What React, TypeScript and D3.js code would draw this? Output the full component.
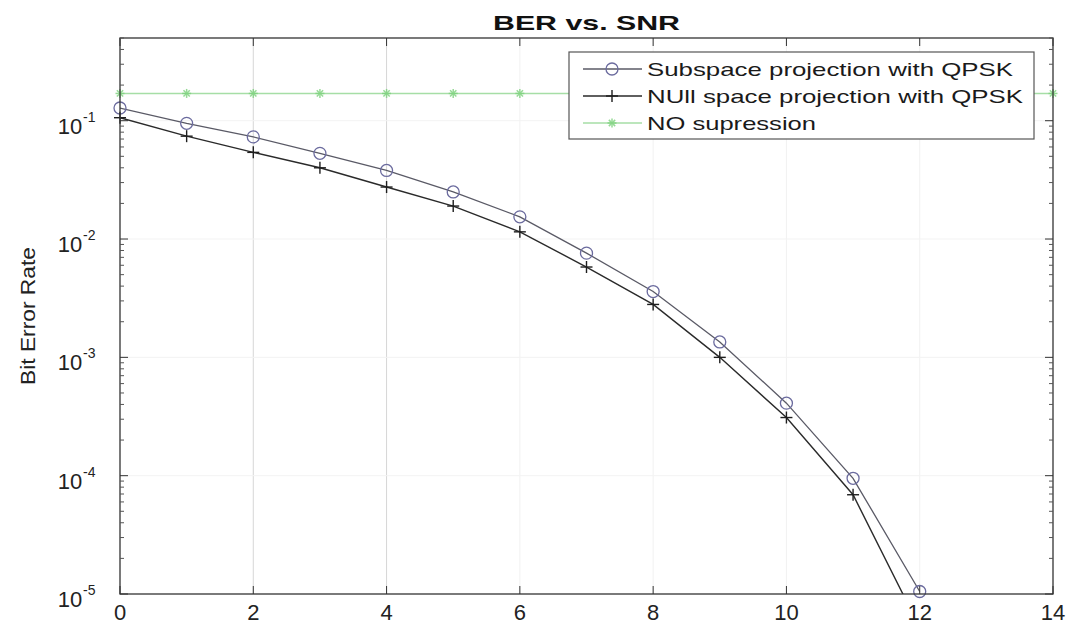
import { line, range, scaleLinear, scaleLog } from "d3";

// SNR (dB) on the x axis
const snrValues = [0, 1, 2, 3, 4, 5, 6, 7, 8, 9, 10, 11, 12, 13, 14];
const subspaceBer = [0.128, 0.095, 0.073, 0.053, 0.038, 0.025, 0.0154, 0.0076, 0.0036, 0.00135, 0.00041, 0.000095, 0.0000105];
const nullBer = [0.106, 0.074, 0.054, 0.04, 0.0275, 0.019, 0.0115, 0.0058, 0.0028, 0.001, 0.00031, 0.000069, 0.0000052];
const noSuppressionBer = [0.17, 0.17, 0.17, 0.17, 0.17, 0.17, 0.17, 0.17, 0.17, 0.17, 0.17, 0.17, 0.17, 0.17, 0.17];
const xTicks = [0, 2, 4, 6, 8, 10, 12, 14];
const yExponents = [-5, -4, -3, -2, -1];
const legendLabels = ["Subspace projection with QPSK", "NUll space projection with QPSK", "NO supression"];

const W = 1074;
const H = 628;
const m = { top: 38, right: 21, bottom: 34, left: 120 };
const font = "'Liberation Sans', Arial, sans-serif";

const App = () => {
  const x = scaleLinear().domain([0, 14]).range([m.left, W - m.right]);
  const y = scaleLog().domain([1e-5, 0.5]).range([H - m.bottom, m.top]);
  const x0 = m.left, x1 = W - m.right, y0 = m.top, y1 = H - m.bottom;

  const pts = (vals: number[]) => vals.map((v, i) => [snrValues[i], v] as [number, number]);
  const path = line<[number, number]>().x((d) => x(d[0])).y((d) => y(d[1]));
  const inside = (v: number) => v >= 1e-5 * 0.999;

  // minor ticks 2..9 in every decade
  const minor: number[] = [];
  yExponents.forEach((e) => {
    range(2, 10).forEach((k) => {
      const v = k * Math.pow(10, e);
      if (v <= 0.5) minor.push(v);
    });
  });

  const plus = (cx: number, cy: number, s: number, c: string, k: string) => (
    <g key={k} stroke={c} strokeWidth={1.4}>
      <line x1={cx - s} x2={cx + s} y1={cy} y2={cy} />
      <line x1={cx} x2={cx} y1={cy - s} y2={cy + s} />
    </g>
  );
  const star = (cx: number, cy: number, s: number, c: string, k: string) => (
    <g key={k} stroke={c} strokeWidth={1.5} opacity={0.8}>
      <line x1={cx - s} x2={cx + s} y1={cy} y2={cy} />
      <line x1={cx} x2={cx} y1={cy - s} y2={cy + s} />
      <line x1={cx - s * 0.7} x2={cx + s * 0.7} y1={cy - s * 0.7} y2={cy + s * 0.7} />
      <line x1={cx - s * 0.7} x2={cx + s * 0.7} y1={cy + s * 0.7} y2={cy - s * 0.7} />
    </g>
  );

  const lgX = 569, lgY = 52, lgW = 465, lgH = 87;
  const rowY = [69, 96, 123];

  return (
    <svg width={W} height={H} style={{ position: "absolute", left: 0, top: 0, background: "#fff" }} fontFamily={font}>
      <defs>
        <clipPath id="plot">
          <rect x={x0} y={y0} width={x1 - x0} height={y1 - y0} />
        </clipPath>
      </defs>
      <rect width={W} height={H} fill="#fff" />

      {/* grid */}
      {xTicks.slice(1, -1).map((t) => (
        <line key={"gx" + t} x1={x(t)} x2={x(t)} y1={y0} y2={y1} stroke={t === 2 || t === 4 ? "#d6d6d6" : "#f1f1f1"} />
      ))}
      {yExponents.slice(1).map((e) => (
        <line key={"gy" + e} x1={x0} x2={x1} y1={y(Math.pow(10, e))} y2={y(Math.pow(10, e))} stroke="#f3f3f3" />
      ))}

      {/* series lines */}
      <g clipPath="url(#plot)" fill="none">
        <path d={path(pts(noSuppressionBer)) ?? ""} stroke="#a6dea6" strokeWidth={1.6} />
        <path d={path(pts(subspaceBer)) ?? ""} stroke="#5a5a66" strokeWidth={1.3} />
        <path d={path(pts(nullBer)) ?? ""} stroke="#2a2a2a" strokeWidth={1.4} />
      </g>

      {/* markers */}
      {pts(noSuppressionBer).map((d, i) => star(x(d[0]), y(d[1]), 4.5, "#7cd27c", "gs" + i))}
      {pts(subspaceBer).filter((d) => inside(d[1])).map((d, i) => (
        <circle key={"c" + i} cx={x(d[0])} cy={y(d[1])} r={6} fill="none" stroke="#6b6b9e" strokeWidth={1.3} />
      ))}
      {pts(nullBer).filter((d) => inside(d[1])).map((d, i) => plus(x(d[0]), y(d[1]), 6, "#1e1e1e", "p" + i))}

      {/* axes box */}
      <rect x={x0} y={y0} width={x1 - x0} height={y1 - y0} fill="none" stroke="#333" strokeWidth={1.3} />
      {xTicks.map((t) => (
        <g key={"xt" + t}>
          <line x1={x(t)} x2={x(t)} y1={y1} y2={y1 - 8} stroke="#333" />
          <line x1={x(t)} x2={x(t)} y1={y0} y2={y0 + 8} stroke="#333" />
          <text x={x(t)} y={y1 + 26} textAnchor="middle" fontSize={22} fill="#222">{t}</text>
        </g>
      ))}
      {yExponents.map((e) => {
        const yy = y(Math.pow(10, e));
        return (
          <g key={"yt" + e}>
            <line x1={x0} x2={x0 + 8} y1={yy} y2={yy} stroke="#333" />
            <line x1={x1} x2={x1 - 8} y1={yy} y2={yy} stroke="#333" />
            <text x={x0 - 50} y={yy + 13} textAnchor="middle" fontSize={22} fill="#222">10</text>
            <text x={x0 - 37} y={yy + 1} textAnchor="start" fontSize={14} fill="#222">{"-" + Math.abs(e)}</text>
          </g>
        );
      })}
      {minor.map((v, i) => (
        <g key={"mt" + i} stroke="#555">
          <line x1={x0} x2={x0 + 4} y1={y(v)} y2={y(v)} />
          <line x1={x1} x2={x1 - 4} y1={y(v)} y2={y(v)} />
        </g>
      ))}

      {/* title and y label */}
      <text x={(x0 + x1) / 2} y={30} textAnchor="middle" fontSize={21} fontWeight="bold" fill="#111" textLength={187} lengthAdjust="spacingAndGlyphs">BER vs. SNR</text>
      <text transform={`translate(35, 316) rotate(-90)`} textAnchor="middle" fontSize={21} fill="#222" textLength={138} lengthAdjust="spacingAndGlyphs">Bit Error Rate</text>

      {/* legend */}
      <rect x={lgX} y={lgY} width={lgW} height={lgH} fill="#fff" stroke="#555" strokeWidth={1.2} />
      {legendLabels.map((lab, i) => (
        <g key={"lg" + i}>
          <line x1={583} x2={642} y1={rowY[i]} y2={rowY[i]} stroke={i === 0 ? "#5a5a66" : i === 1 ? "#2a2a2a" : "#a6dea6"} strokeWidth={1.5} />
          <text x={647} y={rowY[i] + 7} fontSize={19} fill="#1a1a1a" textLength={i === 0 ? 366 : i === 1 ? 376 : 169} lengthAdjust="spacingAndGlyphs">{lab}</text>
        </g>
      ))}
      <circle cx={612} cy={rowY[0]} r={6} fill="none" stroke="#6b6b9e" strokeWidth={1.3} />
      {plus(612, rowY[1], 6, "#1e1e1e", "lp")}
      {star(612, rowY[2], 4.5, "#7cd27c", "ls")}
    </svg>
  );
};

export default App;
